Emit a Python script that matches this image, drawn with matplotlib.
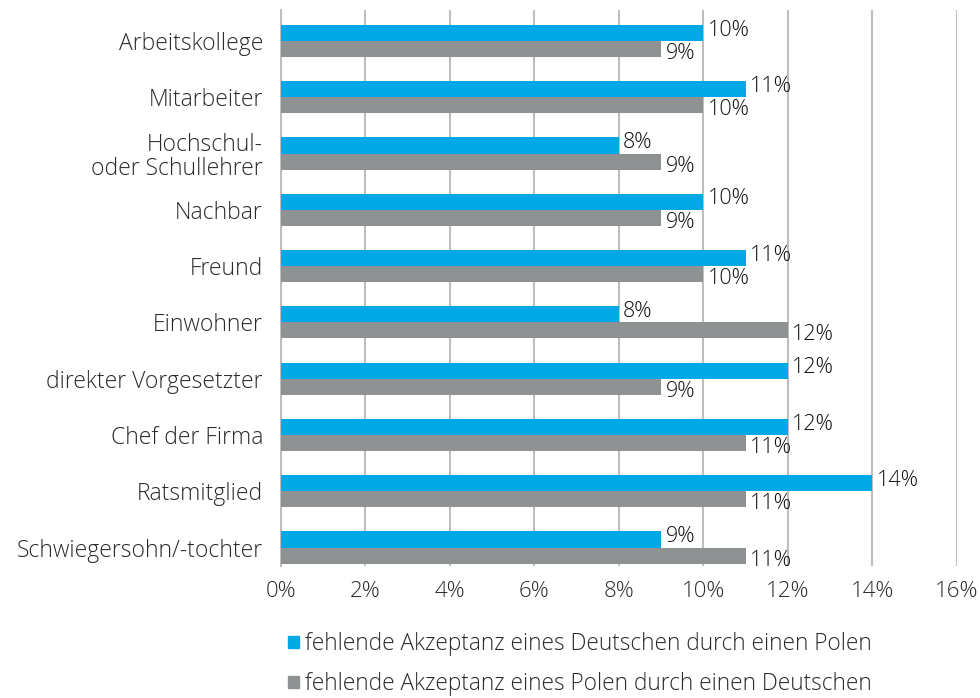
import matplotlib.pyplot as plt
import numpy as np
from matplotlib.patches import Patch

# Daten
kategorien = ["Arbeitskollege", "Mitarbeiter", "Hochschul-\noder Schullehrer", "Nachbar", "Freund",
              "Einwohner", "direkter Vorgesetzter", "Chef der Firma", "Ratsmitglied",
              "Schwiegersohn/-tochter"]
deutsch_durch_polen = [10, 11, 8, 10, 11, 8, 12, 12, 14, 9]
polen_durch_deutschen = [9, 10, 9, 9, 10, 12, 9, 11, 11, 11]
serien = ["fehlende Akzeptanz eines Deutschen durch einen Polen",
          "fehlende Akzeptanz eines Polen durch einen Deutschen"]
x_ticks = [0, 2, 4, 6, 8, 10, 12, 14, 16]

blau = "#00A9E6"
grau = "#8F9292"
plt.rcParams['font.family'] = ['Open Sans', 'DejaVu Sans']
plt.rcParams['font.weight'] = 'light'

fig = plt.figure(figsize=(9.8, 6.98), dpi=100)
ax = fig.add_axes([0.2867, 0.189, 0.6898, 0.7967])

y = np.arange(len(kategorien))
h = 0.285
ax.barh(y - h / 2, deutsch_durch_polen, height=h, color=blau, zorder=3)
ax.barh(y + h / 2, polen_durch_deutschen, height=h, color=grau, zorder=3)

# Beschriftungen
for i in range(len(kategorien)):
    ax.text(deutsch_durch_polen[i] + 0.1, y[i] - h / 2 - 0.05, f"{deutsch_durch_polen[i]}%",
            ha='left', va='center', fontsize=15.5, color="#111111", zorder=4)
    ax.text(polen_durch_deutschen[i] + 0.1, y[i] + h / 2 + 0.08, f"{polen_durch_deutschen[i]}%",
            ha='left', va='center', fontsize=15.5, color="#111111", zorder=4)

ax.set_xlim(0, 16)
ax.set_ylim(9 + 0.33, -0.55)
ax.set_xticks(x_ticks)
ax.set_xticklabels([f"{t}%" for t in x_ticks], fontsize=16, color="#2a2a2a")
ax.set_yticks(y)
ax.set_yticklabels(kategorien, fontsize=16.5, color="#2a2a2a", linespacing=1.0)
ax.tick_params(axis='both', length=0)
ax.tick_params(axis='y', pad=13)
ax.tick_params(axis='x', pad=11)
ax.grid(axis='x', color="#BEBEBE", linewidth=1.5, zorder=0)
for s in ["top", "right", "bottom"]:
    ax.spines[s].set_visible(False)
ax.spines["left"].set_color("#BEBEBE")
ax.spines["left"].set_linewidth(1.5)

handles = [Patch(color=blau), Patch(color=grau)]
fig.legend(handles, serien, loc='upper left', bbox_to_anchor=(0.285, 0.107), frameon=False,
           fontsize=16.3, handlelength=0.45, handleheight=0.45, handletextpad=0.3,
           labelspacing=0.7, labelcolor="#2a2a2a", borderaxespad=0)

plt.savefig("out.png", dpi=100)
plt.close()
